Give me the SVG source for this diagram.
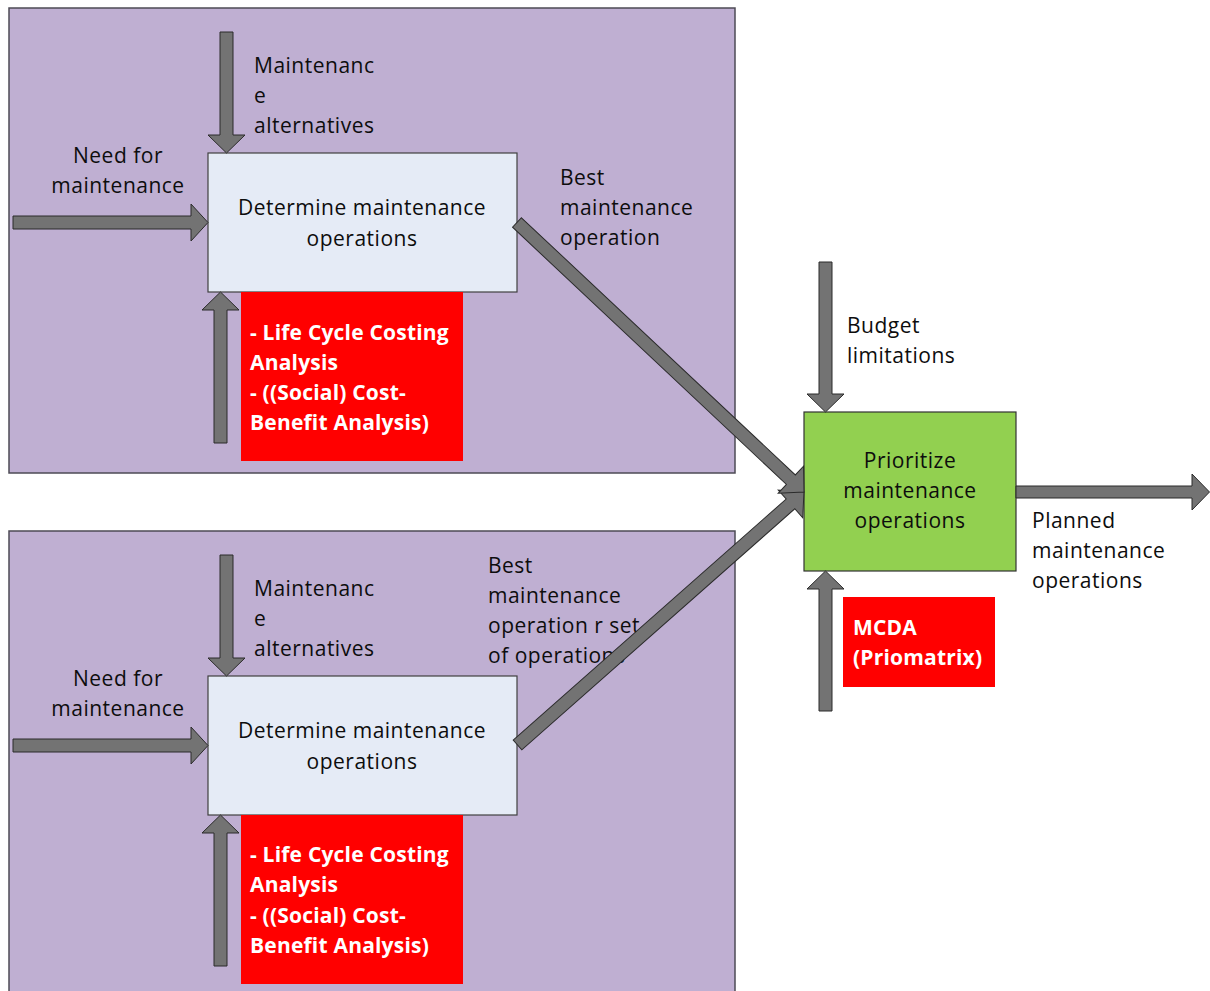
<svg xmlns="http://www.w3.org/2000/svg" width="1210" height="991" viewBox="0 0 1210 991">
  <style>
    .panel { fill: #BFAFD2; stroke: #4d4b55; stroke-width: 1.5; }
    .proc { fill: #E5EBF6; stroke: #404040; stroke-width: 1.2; }
    .prio { fill: #92D050; stroke: #333333; stroke-width: 1.2; }
    .tool { fill: #FF0000; }
    .arrow { fill: #737373; stroke: #2b2b2b; stroke-width: 1; stroke-linejoin: miter; }
    text { font-family: "Open Sans", "Liberation Sans", sans-serif; font-size: 21px; letter-spacing: 0.5px; fill: #0d0d0d; }
    .mid { text-anchor: middle; }
    .tooltext { font-weight: bold; fill: #FFFFFF; letter-spacing: 0.2px; }
  </style>

  <!-- background panels -->
  <rect class="panel" x="9" y="8" width="726" height="465"/>
  <rect class="panel" x="9" y="531" width="726" height="470"/>

  <!-- upper process -->
  <g id="determine-upper">
    <rect class="proc" x="208" y="153" width="309" height="139"/>
    <text class="mid" x="362" y="215">Determine maintenance<tspan x="362" y="246">operations</tspan></text>
  </g>
  <g id="methods-upper">
    <rect class="tool" x="241" y="292" width="222" height="169"/>
    <text class="tooltext" x="250" y="340">- Life Cycle Costing<tspan x="250" y="370">Analysis</tspan><tspan x="250" y="400">- ((Social) Cost-</tspan><tspan x="250" y="430">Benefit Analysis)</tspan></text>
  </g>

  <!-- lower process -->
  <g id="determine-lower">
    <rect class="proc" x="208" y="676" width="309" height="139"/>
    <text class="mid" x="362" y="738">Determine maintenance<tspan x="362" y="769">operations</tspan></text>
  </g>
  <g id="methods-lower">
    <rect class="tool" x="241" y="815" width="222" height="169"/>
    <text class="tooltext" x="250" y="862">- Life Cycle Costing<tspan x="250" y="892">Analysis</tspan><tspan x="250" y="923">- ((Social) Cost-</tspan><tspan x="250" y="953">Benefit Analysis)</tspan></text>
  </g>

  <!-- prioritisation -->
  <g id="prioritize">
    <rect class="prio" x="804" y="412" width="212" height="159"/>
    <text class="mid" x="910" y="468">Prioritize<tspan x="910" y="498">maintenance</tspan><tspan x="910" y="528">operations</tspan></text>
  </g>
  <g id="mcda">
    <rect class="tool" x="843" y="597" width="152" height="90"/>
    <text class="tooltext" x="853" y="635">MCDA<tspan x="853" y="665">(Priomatrix)</tspan></text>
  </g>

  <!-- flow labels -->
  <g id="labels">
    <text x="254" y="73">Maintenanc<tspan x="254" y="103">e</tspan><tspan x="254" y="133">alternatives</tspan></text>
    <text class="mid" x="118" y="163">Need for<tspan x="118" y="193">maintenance</tspan></text>
    <text x="560" y="185">Best<tspan x="560" y="215">maintenance</tspan><tspan x="560" y="245">operation</tspan></text>

    <text x="254" y="596">Maintenanc<tspan x="254" y="626">e</tspan><tspan x="254" y="656">alternatives</tspan></text>
    <text class="mid" x="118" y="686">Need for<tspan x="118" y="716">maintenance</tspan></text>
    <text x="488" y="573">Best<tspan x="488" y="603">maintenance</tspan><tspan x="488" y="633">operation r set</tspan><tspan x="488" y="663">of operations</tspan></text>

    <text x="847" y="333">Budget<tspan x="847" y="363">limitations</tspan></text>
    <text x="1032" y="528">Planned<tspan x="1032" y="558">maintenance</tspan><tspan x="1032" y="588">operations</tspan></text>
  </g>

  <!-- block arrows -->
  <g id="connectors">
    <!-- upper process inputs / controls / mechanisms -->
    <path class="arrow" d="M13,216 H191 V204 L208,222.5 L191,241 V229 H13 Z"/>
    <path class="arrow" d="M220,32 H233 V135 H245 L226.5,153 L208,135 H220 Z"/>
    <path class="arrow" d="M214,443 V310 H202 L220.5,292 L239,310 H227 V443 Z"/>

    <!-- lower process inputs / controls / mechanisms -->
    <path class="arrow" d="M13,739 H191 V727 L208,745.5 L191,764 V752 H13 Z"/>
    <path class="arrow" d="M220,555 H233 V658 H245 L226.5,676 L208,658 H220 Z"/>
    <path class="arrow" d="M214,966 V833 H202 L220.5,815 L239,833 H227 V966 Z"/>

    <!-- outputs feeding the prioritisation -->
    <path class="arrow" transform="translate(517.5,745) rotate(-41.45)" d="M0,-6.5 H364.2 V-18.5 L382.2,0 L364.2,18.5 V6.5 H0 Z"/>
    <path class="arrow" transform="translate(517,222.5) rotate(43.2)" d="M0,-6.5 H375.7 V-18.5 L393.7,0 L375.7,18.5 V6.5 H0 Z"/>

    <!-- prioritisation control, mechanism, output -->
    <path class="arrow" d="M819,262 H832 V394 H844 L825.5,412 L807,394 H819 Z"/>
    <path class="arrow" d="M819,711 V589 H807 L825.5,571 L844,589 H832 V711 Z"/>
    <path class="arrow" d="M1016,486 H1192 V474 L1209.5,492 L1192,510 V498 H1016 Z"/>
  </g>
</svg>
